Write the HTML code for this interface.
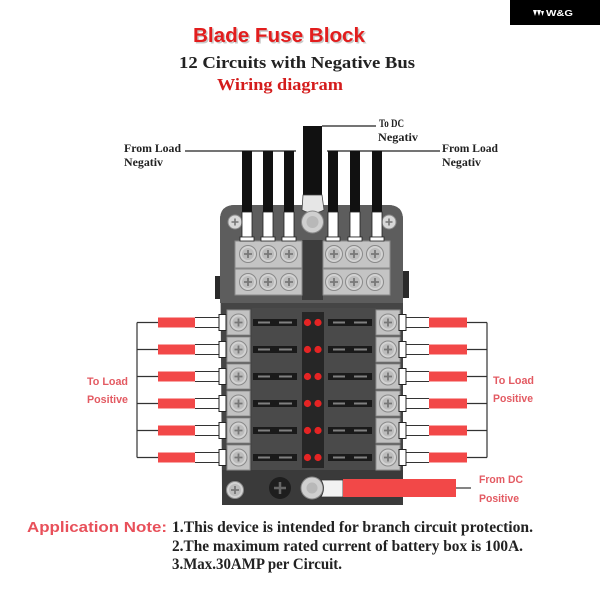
<!DOCTYPE html>
<html><head><meta charset="utf-8"><style>html,body{margin:0;padding:0;background:#fff}svg{display:block}</style></head>
<body>
<svg width="600" height="600" viewBox="0 0 600 600" xmlns="http://www.w3.org/2000/svg">
<defs>
<g id="scr"><circle r="8.5" fill="#d2d2d2" stroke="#8a8a8a" stroke-width="1"/><circle r="6" fill="#bcbcbc"/><path d="M-4 0H4M0 -4V4" stroke="#777" stroke-width="1.8"/></g>
<g id="sscr"><circle r="7" fill="#d8d8d8" stroke="#8a8a8a" stroke-width="1"/><path d="M-3.5 0H3.5M0 -3.5V3.5" stroke="#777" stroke-width="1.6"/></g>
</defs>

<!-- top right badge -->
<rect x="510" y="0" width="90" height="25" fill="#000"/>
<path d="M533 10 L535 16 L537 10 Z M537 10 L539 16 L541 10 Z M541 11 L542.5 16 L544 11 Z" fill="#fff"/>
<text x="546" y="16" font-family="Liberation Sans, sans-serif" font-weight="bold" font-size="8" fill="#fff" textLength="27" lengthAdjust="spacingAndGlyphs">W&amp;G</text>

<!-- titles -->
<text x="194.5" y="43.5" font-family="Liberation Sans, sans-serif" font-weight="bold" font-size="20" fill="#c8c8c8" textLength="172" lengthAdjust="spacingAndGlyphs">Blade Fuse Block</text>
<text x="193" y="42" font-family="Liberation Sans, sans-serif" font-weight="bold" font-size="20" fill="#e21d1d" textLength="172" lengthAdjust="spacingAndGlyphs">Blade Fuse Block</text>
<text x="179" y="68" font-family="Liberation Serif, serif" font-weight="bold" font-size="17" fill="#222" textLength="236" lengthAdjust="spacingAndGlyphs">12 Circuits with Negative Bus</text>
<text x="217" y="90" font-family="Liberation Serif, serif" font-weight="bold" font-size="17" fill="#d41c1c" textLength="126" lengthAdjust="spacingAndGlyphs">Wiring diagram</text>

<!-- labels top -->
<g font-family="Liberation Serif, serif" font-weight="bold" font-size="11.5" fill="#222">
<text x="124" y="152" textLength="57" lengthAdjust="spacingAndGlyphs">From Load</text>
<text x="124" y="166" textLength="39" lengthAdjust="spacingAndGlyphs">Negativ</text>
<text x="442" y="152" textLength="56" lengthAdjust="spacingAndGlyphs">From Load</text>
<text x="442" y="166" textLength="39" lengthAdjust="spacingAndGlyphs">Negativ</text>
<text x="379" y="127" textLength="25" lengthAdjust="spacingAndGlyphs">To DC</text>
<text x="378" y="141" textLength="40" lengthAdjust="spacingAndGlyphs">Negativ</text>
</g>
<line x1="185" y1="151" x2="296" y2="151" stroke="#222" stroke-width="1.3"/>
<line x1="327" y1="151" x2="440" y2="151" stroke="#222" stroke-width="1.3"/>
<line x1="322" y1="126" x2="376" y2="126" stroke="#222" stroke-width="1.3"/>

<!-- block body -->
<rect x="215" y="276" width="6" height="23" fill="#2a2a2a"/>
<rect x="403" y="271" width="6" height="27" fill="#2a2a2a"/>
<path d="M220 220 Q220 205 235 205 H388 Q403 205 403 220 V490 Q403 505 388 505 H237 Q222 505 222 490 Z" fill="#454545"/>
<path d="M220 220 Q220 205 235 205 H388 Q403 205 403 220 V303 H220 Z" fill="#5d5d5d"/>
<rect x="302" y="240" width="21" height="60" fill="#3c3c3c"/>
<rect x="222" y="470" width="181" height="35" fill="#3b3b3b"/>
<path d="M222 470 H403 V490 Q403 505 388 505 H237 Q222 505 222 490 Z" fill="#3a3a3a"/>
<rect x="252" y="308" width="124" height="162" fill="#4a4a4a"/>

<!-- top terminal strips -->
<rect x="235" y="241" width="67" height="27" fill="#c4c4c4" stroke="#8a8a8a"/>
<rect x="235" y="269" width="67" height="26" fill="#c4c4c4" stroke="#8a8a8a"/>
<rect x="323" y="241" width="67" height="27" fill="#c4c4c4" stroke="#8a8a8a"/>
<rect x="323" y="269" width="67" height="26" fill="#c4c4c4" stroke="#8a8a8a"/>
<use href="#scr" x="248" y="254"/><use href="#scr" x="268" y="254"/><use href="#scr" x="289" y="254"/>
<use href="#scr" x="248" y="282"/><use href="#scr" x="268" y="282"/><use href="#scr" x="289" y="282"/>
<use href="#scr" x="334" y="254"/><use href="#scr" x="354" y="254"/><use href="#scr" x="375" y="254"/>
<use href="#scr" x="334" y="282"/><use href="#scr" x="354" y="282"/><use href="#scr" x="375" y="282"/>
<use href="#sscr" x="235" y="222"/>
<use href="#sscr" x="389" y="222"/>

<!-- top wires -->
<g>
<rect x="242" y="151" width="10" height="61" fill="#111"/>
<rect x="263" y="151" width="10" height="61" fill="#111"/>
<rect x="284" y="151" width="10" height="61" fill="#111"/>
<rect x="328" y="151" width="10" height="61" fill="#111"/>
<rect x="350" y="151" width="10" height="61" fill="#111"/>
<rect x="372" y="151" width="10" height="61" fill="#111"/>
<g fill="#fff" stroke="#222" stroke-width="0.8">
<rect x="242" y="212" width="10" height="25"/>
<rect x="263" y="212" width="10" height="25"/>
<rect x="284" y="212" width="10" height="25"/>
<rect x="328" y="212" width="10" height="25"/>
<rect x="350" y="212" width="10" height="25"/>
<rect x="372" y="212" width="10" height="25"/>
<rect x="240" y="237" width="14" height="4"/>
<rect x="261" y="237" width="14" height="4"/>
<rect x="282" y="237" width="14" height="4"/>
<rect x="326" y="237" width="14" height="4"/>
<rect x="348" y="237" width="14" height="4"/>
<rect x="370" y="237" width="14" height="4"/>
</g>
</g>
<!-- center negative stud -->
<rect x="303" y="126" width="19" height="70" fill="#111"/>
<path d="M303 195 H322 L324 210 Q313 216 302 210 Z" fill="#e6e6e6" stroke="#444" stroke-width="0.8"/>
<circle cx="312.5" cy="222" r="11" fill="#cfcfcf" stroke="#888"/>
<circle cx="312.5" cy="222" r="6" fill="#b8b8b8"/>

<!-- LED strip -->
<rect x="302" y="312" width="22" height="156" fill="#262626"/>

<!-- rows -->
<g id="rows">
<!-- row template repeated -->
</g>
<g fill="#c2c2c2" stroke="#8e8e8e">
<rect x="227" y="310" width="23" height="25"/><rect x="227" y="337" width="23" height="25"/><rect x="227" y="364" width="23" height="25"/><rect x="227" y="391" width="23" height="25"/><rect x="227" y="418" width="23" height="25"/><rect x="227" y="445" width="23" height="25"/>
<rect x="376" y="310" width="24" height="25"/><rect x="376" y="337" width="24" height="25"/><rect x="376" y="364" width="24" height="25"/><rect x="376" y="391" width="24" height="25"/><rect x="376" y="418" width="24" height="25"/><rect x="376" y="445" width="24" height="25"/>
</g>
<use href="#scr" x="238.5" y="322.5"/><use href="#scr" x="238.5" y="349.5"/><use href="#scr" x="238.5" y="376.5"/><use href="#scr" x="238.5" y="403.5"/><use href="#scr" x="238.5" y="430.5"/><use href="#scr" x="238.5" y="457.5"/>
<use href="#scr" x="388" y="322.5"/><use href="#scr" x="388" y="349.5"/><use href="#scr" x="388" y="376.5"/><use href="#scr" x="388" y="403.5"/><use href="#scr" x="388" y="430.5"/><use href="#scr" x="388" y="457.5"/>

<!-- fuses -->
<g fill="#1a1a1a">
<rect x="253" y="319" width="44" height="7"/><rect x="253" y="346" width="44" height="7"/><rect x="253" y="373" width="44" height="7"/><rect x="253" y="400" width="44" height="7"/><rect x="253" y="427" width="44" height="7"/><rect x="253" y="454" width="44" height="7"/>
<rect x="328" y="319" width="44" height="7"/><rect x="328" y="346" width="44" height="7"/><rect x="328" y="373" width="44" height="7"/><rect x="328" y="400" width="44" height="7"/><rect x="328" y="427" width="44" height="7"/><rect x="328" y="454" width="44" height="7"/>
</g>
<g fill="#808080">
<rect x="258" y="321.5" width="12" height="2"/><rect x="279" y="321.5" width="13" height="2"/><rect x="333" y="321.5" width="12" height="2"/><rect x="354" y="321.5" width="13" height="2"/>
<rect x="258" y="348.5" width="12" height="2"/><rect x="279" y="348.5" width="13" height="2"/><rect x="333" y="348.5" width="12" height="2"/><rect x="354" y="348.5" width="13" height="2"/>
<rect x="258" y="375.5" width="12" height="2"/><rect x="279" y="375.5" width="13" height="2"/><rect x="333" y="375.5" width="12" height="2"/><rect x="354" y="375.5" width="13" height="2"/>
<rect x="258" y="402.5" width="12" height="2"/><rect x="279" y="402.5" width="13" height="2"/><rect x="333" y="402.5" width="12" height="2"/><rect x="354" y="402.5" width="13" height="2"/>
<rect x="258" y="429.5" width="12" height="2"/><rect x="279" y="429.5" width="13" height="2"/><rect x="333" y="429.5" width="12" height="2"/><rect x="354" y="429.5" width="13" height="2"/>
<rect x="258" y="456.5" width="12" height="2"/><rect x="279" y="456.5" width="13" height="2"/><rect x="333" y="456.5" width="12" height="2"/><rect x="354" y="456.5" width="13" height="2"/>
</g>
<!-- LEDs -->
<g fill="#e52424">
<circle cx="307.5" cy="322.5" r="3.6"/><circle cx="318" cy="322.5" r="3.6"/>
<circle cx="307.5" cy="349.5" r="3.6"/><circle cx="318" cy="349.5" r="3.6"/>
<circle cx="307.5" cy="376.5" r="3.6"/><circle cx="318" cy="376.5" r="3.6"/>
<circle cx="307.5" cy="403.5" r="3.6"/><circle cx="318" cy="403.5" r="3.6"/>
<circle cx="307.5" cy="430.5" r="3.6"/><circle cx="318" cy="430.5" r="3.6"/>
<circle cx="307.5" cy="457.5" r="3.6"/><circle cx="318" cy="457.5" r="3.6"/>
</g>

<!-- side wires -->
<g stroke="#333" stroke-width="1.2">
<line x1="137" y1="322.5" x2="137" y2="457.5"/>
<line x1="487" y1="322.5" x2="487" y2="457.5"/>
<line x1="137" y1="322.5" x2="158" y2="322.5"/><line x1="137" y1="349.5" x2="158" y2="349.5"/><line x1="137" y1="376.5" x2="158" y2="376.5"/><line x1="137" y1="403.5" x2="158" y2="403.5"/><line x1="137" y1="430.5" x2="158" y2="430.5"/><line x1="137" y1="457.5" x2="158" y2="457.5"/>
<line x1="467" y1="322.5" x2="487" y2="322.5"/><line x1="467" y1="349.5" x2="487" y2="349.5"/><line x1="467" y1="376.5" x2="487" y2="376.5"/><line x1="467" y1="403.5" x2="487" y2="403.5"/><line x1="467" y1="430.5" x2="487" y2="430.5"/><line x1="467" y1="457.5" x2="487" y2="457.5"/>
</g>
<g stroke="#333" stroke-width="1">
<path d="M195 317.5H219M195 327.5H219M195 344.5H219M195 354.5H219M195 371.5H219M195 381.5H219M195 398.5H219M195 408.5H219M195 425.5H219M195 435.5H219M195 452.5H219M195 462.5H219"/>
<path d="M406 317.5H429M406 327.5H429M406 344.5H429M406 354.5H429M406 371.5H429M406 381.5H429M406 398.5H429M406 408.5H429M406 425.5H429M406 435.5H429M406 452.5H429M406 462.5H429"/>
</g>
<g fill="#f24848">
<rect x="158" y="317.5" width="37" height="10"/><rect x="158" y="344.5" width="37" height="10"/><rect x="158" y="371.5" width="37" height="10"/><rect x="158" y="398.5" width="37" height="10"/><rect x="158" y="425.5" width="37" height="10"/><rect x="158" y="452.5" width="37" height="10"/>
<rect x="429" y="317.5" width="38" height="10"/><rect x="429" y="344.5" width="38" height="10"/><rect x="429" y="371.5" width="38" height="10"/><rect x="429" y="398.5" width="38" height="10"/><rect x="429" y="425.5" width="38" height="10"/><rect x="429" y="452.5" width="38" height="10"/>
</g>
<g fill="#fff" stroke="#222" stroke-width="1">
<rect x="219" y="314.5" width="7" height="16"/><rect x="219" y="341.5" width="7" height="16"/><rect x="219" y="368.5" width="7" height="16"/><rect x="219" y="395.5" width="7" height="16"/><rect x="219" y="422.5" width="7" height="16"/><rect x="219" y="449.5" width="7" height="16"/>
<rect x="399" y="314.5" width="7" height="16"/><rect x="399" y="341.5" width="7" height="16"/><rect x="399" y="368.5" width="7" height="16"/><rect x="399" y="395.5" width="7" height="16"/><rect x="399" y="422.5" width="7" height="16"/><rect x="399" y="449.5" width="7" height="16"/>
</g>

<!-- bottom -->
<use href="#scr" x="235" y="490"/>
<circle cx="280" cy="488" r="11" fill="#1e1e1e"/>
<path d="M274 488H286M280 482V494" stroke="#666" stroke-width="2.5"/>
<circle cx="312" cy="488" r="11" fill="#cfcfcf" stroke="#888"/>
<circle cx="312" cy="488" r="5.5" fill="#b8b8b8"/>
<path d="M321 480 H343 V497 H321 Q326 488 321 480 Z" fill="#f2f2f2" stroke="#333" stroke-width="0.8"/>
<rect x="343" y="479" width="113" height="18" fill="#f24848"/>
<line x1="456" y1="488" x2="471" y2="488" stroke="#333" stroke-width="1.2"/>

<!-- red side labels -->
<g font-family="Liberation Sans, sans-serif" font-weight="bold" font-size="11" fill="#e35a62">
<text x="87" y="385" textLength="41" lengthAdjust="spacingAndGlyphs">To Load</text>
<text x="87" y="403" textLength="41" lengthAdjust="spacingAndGlyphs">Positive</text>
<text x="493" y="384" textLength="41" lengthAdjust="spacingAndGlyphs">To Load</text>
<text x="493" y="402" textLength="40" lengthAdjust="spacingAndGlyphs">Positive</text>
<text x="479" y="483" textLength="44" lengthAdjust="spacingAndGlyphs">From DC</text>
<text x="479" y="502" textLength="40" lengthAdjust="spacingAndGlyphs">Positive</text>
</g>

<!-- application note -->
<text x="27" y="532" font-family="Liberation Sans, sans-serif" font-weight="bold" font-size="15" fill="#e8505a" textLength="140" lengthAdjust="spacingAndGlyphs">Application Note:</text>
<g font-family="Liberation Serif, serif" font-weight="bold" font-size="16" fill="#222">
<text x="172" y="532" textLength="361" lengthAdjust="spacingAndGlyphs">1.This device is intended for branch circuit protection.</text>
<text x="172" y="551" textLength="351" lengthAdjust="spacingAndGlyphs">2.The maximum rated current of battery box is 100A.</text>
<text x="172" y="569" textLength="170" lengthAdjust="spacingAndGlyphs">3.Max.30AMP per Circuit.</text>
</g>
</svg>
</body></html>
